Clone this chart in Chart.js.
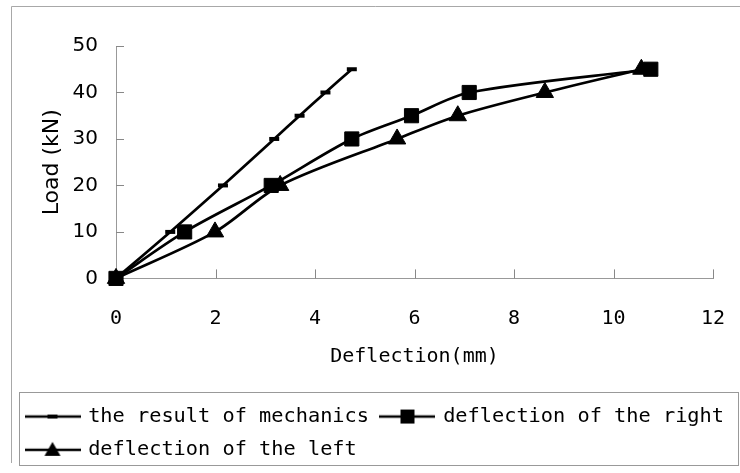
<!DOCTYPE html>
<html>
<head>
<meta charset="utf-8">
<script src="https://cdn.jsdelivr.net/npm/chart.js@4"></script>
<style>
  html, body { margin: 0; padding: 0; background: #fff; }
</style>
</head>
<body>
<canvas id="loadChart" width="740" height="473"></canvas>
<script>
// Load steps (kN) and measured / computed deflections (mm)
const loads = [0, 10, 20, 30, 35, 40, 45];
const mechanicsDefl = [0, 1.09, 2.15, 3.18, 3.69, 4.21, 4.74];
const rightDefl = [0, 1.38, 3.12, 4.74, 5.94, 7.1, 10.75];
const leftDefl = [0, 1.99, 3.3, 5.65, 6.87, 8.62, 10.56];
const seriesNames = ['the result of mechanics', 'deflection of the right', 'deflection of the left'];
const xTicks = [0, 2, 4, 6, 8, 10, 12];
const yTicks = [0, 10, 20, 30, 40, 50];

const monoFont = "'DejaVu Sans Mono', 'Liberation Mono', monospace";
const sansFont = "'DejaVu Sans', Verdana, sans-serif";

const toPoints = defl => loads.map((y, i) => ({ x: defl[i], y: y }));

/*=============== LEGEND SAMPLES (line + marker) ===============*/
function legendSample(marker){
  const c = document.createElement('canvas');
  c.width = 56; c.height = 20;
  const g = c.getContext('2d');
  g.strokeStyle = '#000';
  g.fillStyle = '#000';
  g.lineWidth = 2.5;
  g.beginPath(); g.moveTo(0, 10); g.lineTo(56, 10); g.stroke();
  if(marker === 'dash') g.fillRect(23, 8, 10, 4);
  if(marker === 'square') g.fillRect(21, 3, 14, 14);
  if(marker === 'triangle'){
    g.beginPath(); g.moveTo(28, 2); g.lineTo(36, 16); g.lineTo(20, 16); g.closePath(); g.fill();
  }
  return c;
}
const samples = [legendSample('dash'), legendSample('square'), legendSample('triangle')];

/*=============== FRAME, LEGEND BOX, INWARD TICKS ===============*/
const framePlugin = {
  id: 'frame',
  beforeDraw(chart){
    const ctx = chart.ctx;
    ctx.save();
    ctx.fillStyle = '#fff';
    ctx.fillRect(0, 0, chart.width, chart.height);
    ctx.strokeStyle = '#a8a8a8';
    ctx.lineWidth = 1;
    ctx.beginPath();
    ctx.moveTo(11.5, 463); ctx.lineTo(11.5, 6.5); ctx.lineTo(chart.width, 6.5);
    ctx.stroke();
    const lg = chart.legend;
    ctx.strokeStyle = '#999';
    ctx.strokeRect(Math.round(lg.left) + 5.5, Math.round(lg.top) - 0.5, Math.round(lg.right - lg.left) - 7, 73);
    ctx.restore();
  },
  beforeDatasetsDraw(chart){
    const {ctx, chartArea: a, scales: {x, y}} = chart;
    ctx.save();
    ctx.strokeStyle = '#888';
    ctx.lineWidth = 1;
    ctx.beginPath();
    x.ticks.forEach(t => {
      const px = Math.round(x.getPixelForValue(t.value)) + 0.5;
      ctx.moveTo(px, a.bottom); ctx.lineTo(px, a.bottom - 9);
    });
    y.ticks.forEach(t => {
      const py = Math.round(y.getPixelForValue(t.value)) + 0.5;
      ctx.moveTo(a.left, py); ctx.lineTo(a.left + 8, py);
    });
    ctx.stroke();
    ctx.restore();
  }
};

const baseLine = {
  borderColor: '#000',
  backgroundColor: '#000',
  pointBackgroundColor: '#000',
  pointBorderColor: '#000',
  borderWidth: 2.7,
  tension: 0.3,
  fill: false,
  clip: false
};

const ctxLoad = document.getElementById('loadChart').getContext('2d');
new Chart(ctxLoad, {
  type: 'line',
  data: {
    datasets: [
      Object.assign({}, baseLine, {
        label: seriesNames[0],
        data: toPoints(mechanicsDefl),
        pointStyle: 'line',
        pointRadius: 5,
        pointBorderWidth: 4
      }),
      Object.assign({}, baseLine, {
        label: seriesNames[1],
        data: toPoints(rightDefl),
        pointStyle: 'rect',
        pointRadius: 10,
        pointBorderWidth: 1
      }),
      Object.assign({}, baseLine, {
        label: seriesNames[2],
        data: toPoints(leftDefl),
        pointStyle: 'triangle',
        pointRadius: 10,
        pointBorderWidth: 1
      })
    ]
  },
  options: {
    responsive: false,
    animation: false,
    layout: { padding: { top: 46, left: 14, right: 0, bottom: 3 } },
    scales: {
      x: {
        type: 'linear',
        min: xTicks[0],
        max: xTicks[xTicks.length - 1],
        afterBuildTicks: s => { s.ticks = xTicks.map(v => ({ value: v })) },
        afterFit: s => { s.height = 115 },
        // invisible tick marks push the labels down without widening the right margin
        grid: { drawOnChartArea: false, drawTicks: true, tickLength: 27, tickColor: 'rgba(0,0,0,0)' },
        border: { color: '#999', width: 1 },
        ticks: { padding: 1, color: '#000', font: { family: monoFont, size: 20 } },
        title: {
          display: true,
          text: 'Deflection(mm)',
          color: '#000',
          font: { family: monoFont, size: 20 },
          padding: { top: 0, bottom: 25 }
        }
      },
      y: {
        min: yTicks[0],
        max: yTicks[yTicks.length - 1],
        afterBuildTicks: s => { s.ticks = yTicks.map(v => ({ value: v })) },
        afterFit: s => { s.width = 102 },
        grid: { drawOnChartArea: false, drawTicks: false },
        border: { color: '#999', width: 1 },
        ticks: { padding: 18, color: '#000', font: { family: sansFont, size: 20 } },
        title: {
          display: true,
          text: 'Load (kN)',
          color: '#000',
          font: { family: sansFont, size: 22 },
          padding: { top: 25, bottom: 0 }
        }
      },
      // empty right-hand axis keeps the plot clear of the legend's right edge
      y2: {
        position: 'right',
        display: true,
        grid: { display: false, drawTicks: false },
        border: { display: false },
        ticks: { display: false },
        afterFit: s => { s.width = 27 }
      }
    },
    plugins: {
      legend: {
        position: 'bottom',
        align: 'start',
        labels: {
          usePointStyle: true,
          pointStyleWidth: 51,
          padding: 13,
          color: '#000',
          font: { family: monoFont, size: 20.3 },
          generateLabels: chart => chart.data.datasets.map((ds, i) => ({
            text: ds.label,
            pointStyle: samples[i],
            fillStyle: '#000',
            strokeStyle: '#000',
            lineWidth: 0,
            hidden: false,
            datasetIndex: i
          }))
        }
      },
      tooltip: { enabled: false }
    }
  },
  plugins: [framePlugin]
});
</script>
</body>
</html>
